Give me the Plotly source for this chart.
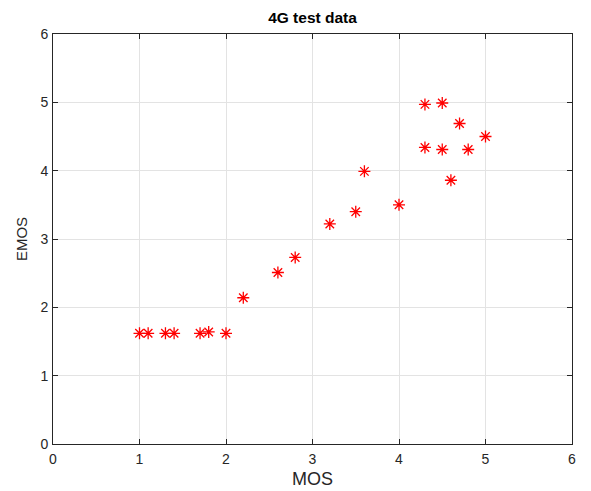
import plotly.graph_objects as go

mos = [1.0, 1.1, 1.3, 1.4, 1.7, 1.8, 2.0, 2.2, 2.6, 2.8, 3.2, 3.5, 3.6, 4.0,
       4.3, 4.5, 4.3, 4.5, 4.7, 4.6, 4.8, 5.0]
emos = [1.62, 1.62, 1.62, 1.62, 1.62, 1.64, 1.62, 2.14, 2.51, 2.73, 3.22, 3.40, 3.99, 3.50,
        4.97, 4.99, 4.34, 4.31, 4.69, 3.86, 4.31, 4.50]
ticks = [0, 1, 2, 3, 4, 5, 6]

FONT = "Liberation Sans, Arial"

fig = go.Figure(go.Scatter(
    x=mos, y=emos, mode="markers",
    marker=dict(symbol="asterisk-open", size=10, color="red",
                line=dict(color="red", width=1.3)),
))

axis_common = dict(
    range=[0, 6], tickvals=ticks, showgrid=True, gridcolor="#e3e3e3", gridwidth=1,
    zeroline=False, showline=True, linecolor="#262626", linewidth=1, mirror="ticks",
    ticks="inside", ticklen=5, tickcolor="#262626",
    tickfont=dict(family=FONT, size=14, color="#262626"),
)

fig.update_layout(
    width=591, height=491,
    margin=dict(l=45, r=27, t=26, b=55),
    paper_bgcolor="white", plot_bgcolor="white",
    showlegend=False,
    title=dict(text="<b>4G test data</b>", x=0.5, xanchor="center", y=0.981, yanchor="middle",
               xref="paper",
               font=dict(family=FONT, size=15.5, color="black")),
    xaxis=dict(axis_common, ticklabelstandoff=2,
               title=dict(text="MOS", standoff=6,
                          font=dict(family=FONT, size=18, color="#262626"))),
    yaxis=dict(axis_common, ticklabelstandoff=1,
               title=dict(text="EMOS", standoff=9,
                          font=dict(family=FONT, size=15, color="#262626"))),
)

fig.write_html("out.html")
